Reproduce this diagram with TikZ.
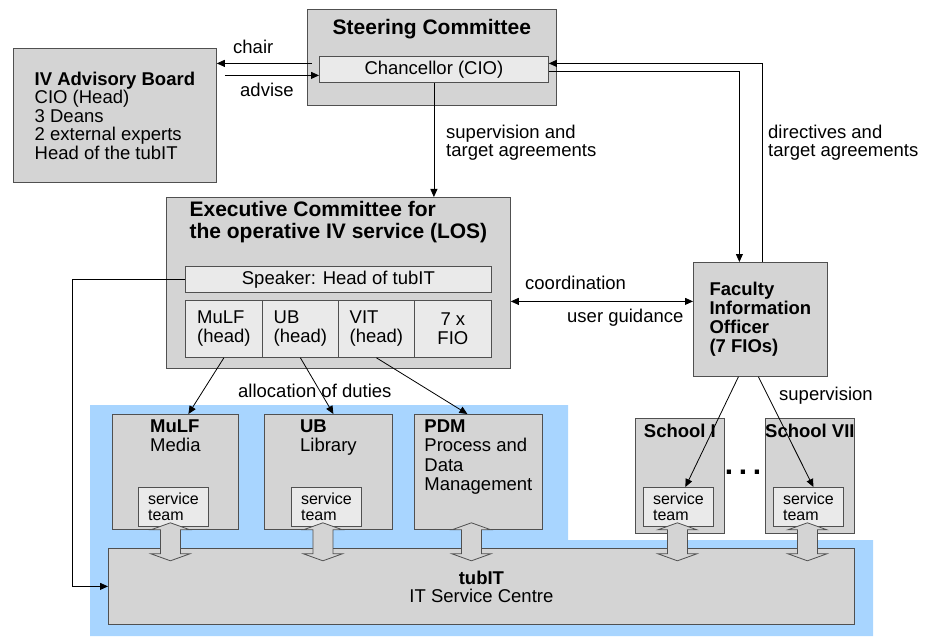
\documentclass[tikz,border=0pt]{standalone}
\usepackage{fontspec}
\setmainfont{Liberation Sans}
\usetikzlibrary{arrows.meta}

\definecolor{boxgray}{RGB}{212,212,212}
\definecolor{cellgray}{RGB}{234,234,234}
\definecolor{paleblue}{RGB}{168,213,255}
\definecolor{edge}{RGB}{80,80,80}

\tikzset{
  >={Triangle[length=8pt,width=7pt]},
  box/.style={draw=edge, fill=boxgray, line width=0.8pt, inner sep=0pt,
    anchor=north west, align=left, font=\fontsize{18.5}{19}\selectfont},
  cell/.style={box, fill=cellgray},
  small/.style={font=\fontsize{16}{16}\selectfont},
  txt/.style={inner sep=0pt, align=left, font=\fontsize{18.5}{19}\selectfont},
  head/.style={inner sep=0pt, align=left, font=\fontsize{21}{22}\selectfont\bfseries},
  link/.style={line width=0.8pt},
  fat/.style={draw=edge, fill=boxgray, line width=0.8pt},
}

% double block arrow, top tip at #1
\newcommand\fatarrow[1]{%
  \draw[fat] #1 ++(0,-4) -- ++(19.5,7) -- ++(-9.5,0) -- ++(0,24) -- ++(9.5,0)
    -- ++(-19.5,7) -- ++(-19.5,-7) -- ++(9.5,0) -- ++(0,-24) -- ++(-9.5,0) -- cycle;}

\begin{document}
\begin{tikzpicture}[x=1pt,y=-1pt]
\useasboundingbox (0,0) rectangle (929,639);

% Blue area
\fill[paleblue] (90,405) -- (568,405) -- (568,540) -- (873,540) -- (873,636) -- (90,636) -- cycle;

% Steering committee and advisory board
\node[box, minimum width=249pt, minimum height=96pt] (steer) at (307,9) {};
\node[head, anchor=base] (steerhead) at ([yshift=-26pt]steer.north) {Steering Committee};
\node[cell, align=center, minimum width=229pt, minimum height=26pt] (chanc) at (319,56) {Chancellor (CIO)};
\node[box, minimum width=203pt, minimum height=134pt, font=\fontsize{18.5}{18.5}\selectfont] (board) at (13,48)
  {\textbf{IV Advisory Board}\\CIO (Head)\\3 Deans\\2 external experts\\Head of the tubIT};

% Executive committee
\node[box, minimum width=344pt, minimum height=171pt] (exec) at (166,197) {};
\node[head, anchor=north] (exechead) at ([yshift=-4.5pt]exec.north) {Executive Committee for\\the operative IV service (LOS)};
\node[cell, align=center, minimum width=306pt, minimum height=26pt] (speaker) at (185,266) {Speaker: Head of tubIT};
\node[cell, minimum width=77pt, minimum height=57pt] (hmulf) at (185,300) {MuLF\\(head)};
\node[cell, minimum width=76pt, minimum height=57pt] (hub) at (262,300) {UB\\(head)};
\node[cell, minimum width=76pt, minimum height=57pt] (hvit) at (338,300) {VIT\\(head)};
\node[cell, align=center, minimum width=77pt, minimum height=57pt] (hfio) at (414,300) {7 x\\FIO};

% Faculty information officer
\node[box, minimum width=134pt, minimum height=114pt, font=\fontsize{18.5}{19}\selectfont\bfseries] (fio) at (693,262)
  {Faculty\\Information\\Officer\\(7 FIOs)};

% Service units
\node[box, minimum width=126pt, minimum height=115pt] (mulf) at (112,414) {};
\node[txt, anchor=north] (mulftext) at ([yshift=-5.5pt]mulf.north) {\textbf{MuLF}\\Media};
\node[cell, small, minimum width=70pt, minimum height=39pt] (mteam) at (138,487) {service\\team};
\node[box, minimum width=128pt, minimum height=115pt] (ub) at (264,414) {};
\node[txt, anchor=north] (ubtext) at ([yshift=-5.5pt]ub.north) {\textbf{UB}\\Library};
\node[cell, small, minimum width=70pt, minimum height=39pt] (uteam) at (291,487) {service\\team};
\node[box, minimum width=128pt, minimum height=115pt] (pdm) at (414,414) {};
\node[txt, anchor=north, font=\fontsize{18.5}{19.5}\selectfont] (pdmtext) at ([yshift=-5.5pt]pdm.north)
  {\textbf{PDM}\\Process and\\Data\\Management};

% Schools
\node[box, minimum width=89pt, minimum height=115pt] (school1) at (635,418) {};
\node[txt, anchor=base, font=\fontsize{18.5}{19}\selectfont\bfseries] (school1head) at ([yshift=-19pt]school1.north) {School I};
\node[cell, small, minimum width=70pt, minimum height=39pt] (s1team) at (643,487) {service\\team};
\node[box, minimum width=89pt, minimum height=115pt] (school7) at (765,418) {};
\node[txt, anchor=base, font=\fontsize{18.5}{19}\selectfont\bfseries] (school7head) at ([yshift=-19pt]school7.north) {School VII};
\node[cell, small, minimum width=70pt, minimum height=39pt] (s7team) at (773,487) {service\\team};
\node[txt, anchor=base, font=\fontsize{30}{30}\selectfont\bfseries] (dots) at (743,474) {.\hspace{5.7pt}.\hspace{5.7pt}.};

% IT service centre
\node[box, align=center, minimum width=746pt, minimum height=76pt, font=\fontsize{18.5}{18}\selectfont] (tubit) at (108,548)
  {\textbf{tubIT}\\IT Service Centre};

% Block arrows
\fatarrow{([xshift=-3pt]mteam.south)}
\fatarrow{([xshift=-3.5pt]uteam.south)}
\fatarrow{([xshift=-7pt,yshift=3pt]pdm.south)}
\fatarrow{([xshift=-1pt]s1team.south)}
\fatarrow{([xshift=-1pt]s7team.south)}

% Chair and advise
\draw[link,->] ([xshift=-7pt,yshift=6pt]chanc.west) coordinate (chairfrom) -- (chairfrom -| board.east);
\coordinate (adviseto) at ([yshift=-6pt]chanc.west);
\draw[link,->] (adviseto -| board.east) ++(8,0) -- (adviseto);
\node[txt, anchor=base west] (chairlbl) at (233,54) {chair};
\node[txt, anchor=base west] (adviselbl) at (240,97) {advise};

% Supervision of the executive committee
\draw[link,->] (chanc.south) -- (chanc.south |- exec.north);
\node[txt, anchor=north west, font=\fontsize{18.5}{18}\selectfont] (suplbl) at (446,124.5) {supervision and\\target agreements};

% Directives
\draw[link,->] ([xshift=2pt]fio.north) |- ([yshift=6pt]chanc.east);
\draw[link,->] ([yshift=-2pt]chanc.east) -| ([xshift=-21pt]fio.north);
\node[txt, anchor=north west, font=\fontsize{18.5}{18}\selectfont] (dirlbl) at (768,124.5) {directives and\\target agreements};

% Coordination
\draw[link,<->] ([yshift=-18.5pt]exec.east) coordinate (coordfrom) -- (coordfrom -| fio.west);
\node[txt, anchor=base west] (coordlbl) at (525,289) {coordination};
\node[txt, anchor=base west] (guidelbl) at (567,322) {user guidance};

% Speaker to tubIT
\draw[link,->] (speaker.west) -- ++(-113,0) |- (tubit.west);

% Allocation of duties
\draw[link,->] (hmulf.south) -- ([xshift=13pt]mulf.north);
\draw[link,->] (hub.south) -- ([xshift=5pt]ub.north);
\draw[link,->] (hvit.south) -- ([xshift=-11pt]pdm.north);
\node[txt, anchor=base west] (alloclbl) at (238,397) {allocation of duties};

% Supervision of the schools
\draw[link,->] ([xshift=-22pt]fio.south) -- ([xshift=7pt]s1team.north);
\draw[link,->] ([xshift=-2pt]fio.south) -- ([xshift=5pt]s7team.north);
\node[txt, anchor=base west] (schsuplbl) at (779,400) {supervision};
\end{tikzpicture}
\end{document}
